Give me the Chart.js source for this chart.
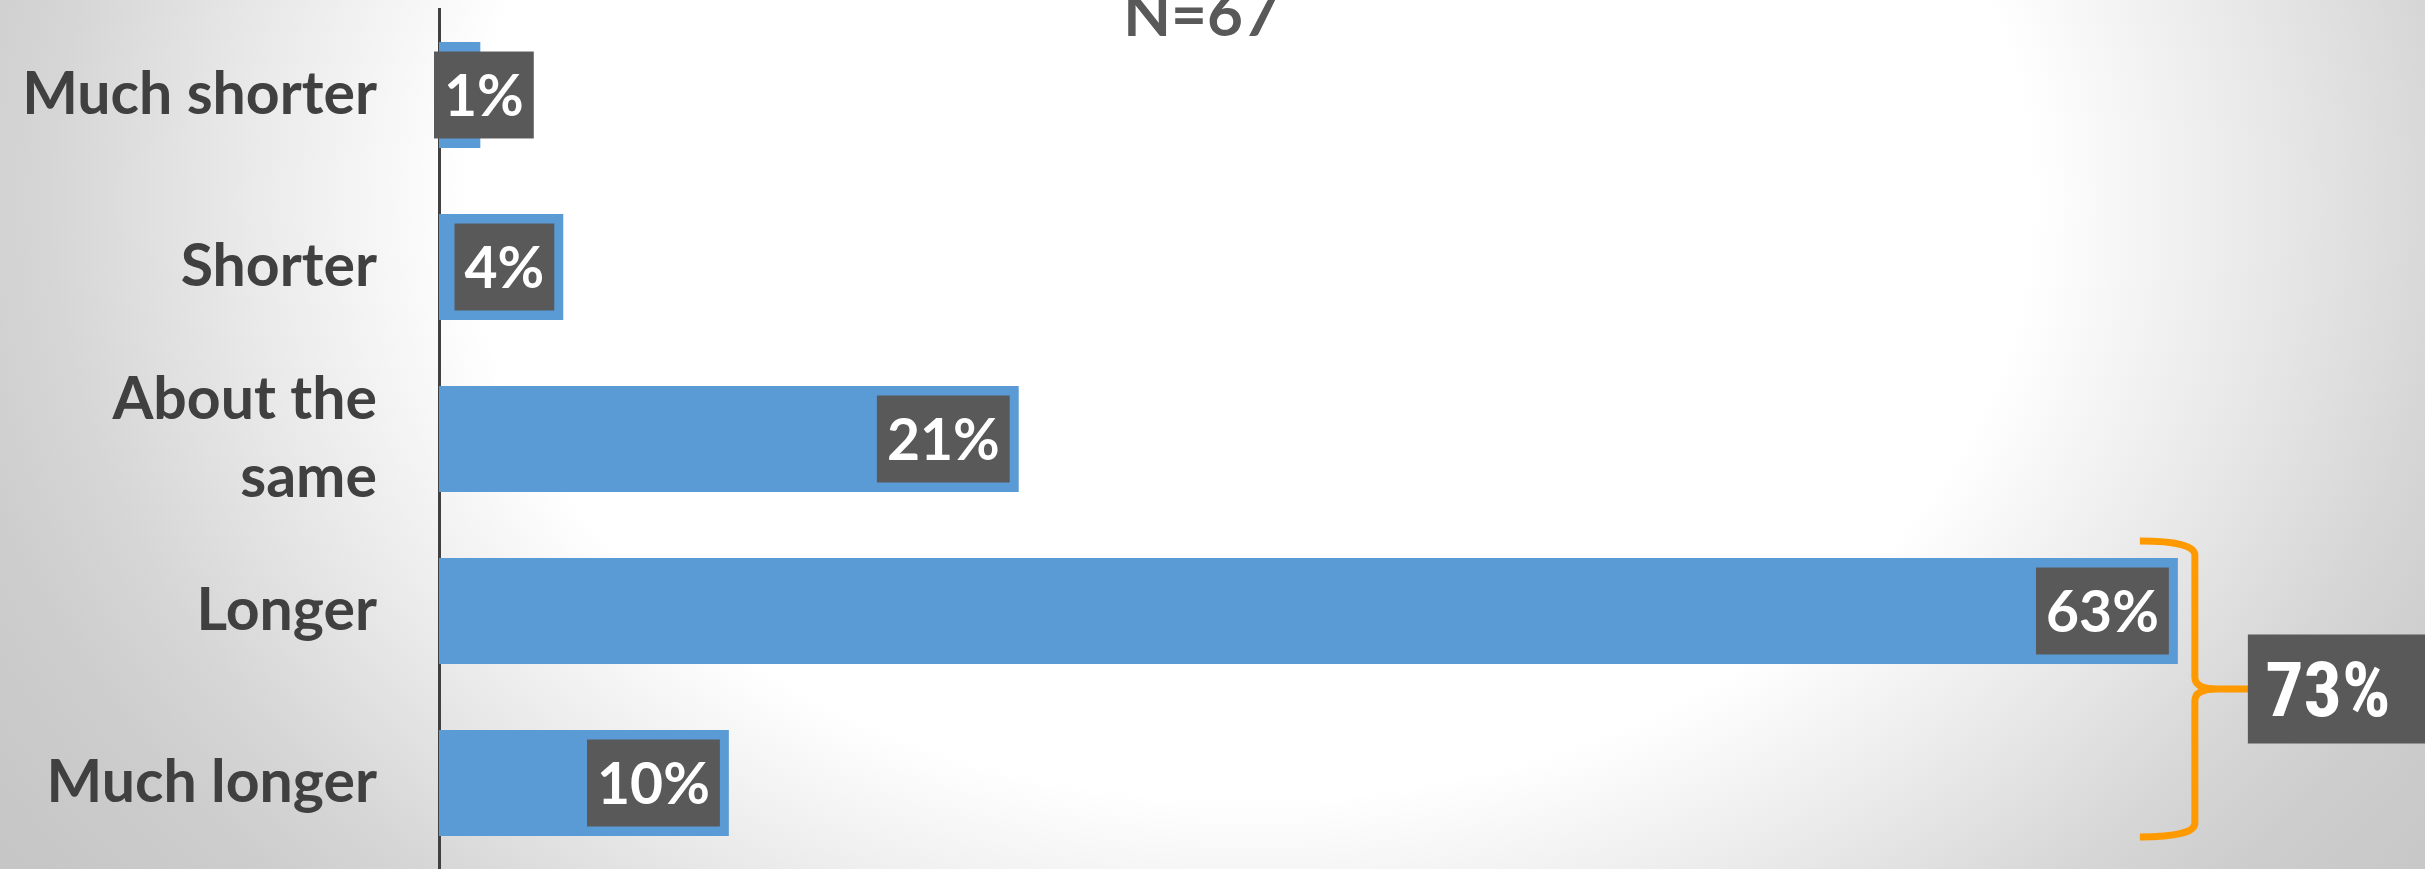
<!DOCTYPE html>
<html>
<head>
<meta charset="utf-8">
<title>N=67</title>
<script src="https://cdn.jsdelivr.net/npm/chart.js@4"></script>
<style>
    html, body {
        margin: 0;
        padding: 0;
        overflow: hidden;
    }
    body {
        width: 2425px;
        height: 869px;
        background: radial-gradient(ellipse 1500px 1150px at 1250px 200px,
            #ffffff 0%, #ffffff 52%, #e8e8e8 68%, #d6d6d6 80%, #cdcdcd 88%, #c6c6c6 100%);
    }
    #wrap {
        position: relative;
        width: 2425px;
        height: 869px;
    }
</style>
</head>
<body>
<div id="wrap"><canvas id="chart"></canvas></div>
<script>
const categories = ['Much shorter', 'Shorter', ['About the', 'same'], 'Longer', 'Much longer'];
const percents = [1.49, 4.48, 20.9, 62.69, 10.45];
const valueLabels = ['1%', '4%', '21%', '63%', '10%'];
const titleText = 'N=67';
const bracketLabel = '73%';
const bracketBars = [3, 4]; // Longer + Much longer

const BAR_BLUE = '#5B9BD5';
const BOX_GREY = '#595959';
const TEXT_DARK = '#404040';
const ORANGE = '#FF9900';
const FONT = 'Lato, "Open Sans", sans-serif';

// dark boxes with white text near the bar ends
const valueBoxes = {
    id: 'valueBoxes',
    afterDatasetsDraw(chart) {
        const ctx = chart.ctx;
        const meta = chart.getDatasetMeta(0);
        const left = chart.chartArea.left;
        ctx.save();
        ctx.font = 'bold 57px ' + FONT;
        const cap = ctx.measureText('0').actualBoundingBoxAscent;
        meta.data.forEach((bar, i) => {
            const txt = valueLabels[i];
            const w = ctx.measureText(txt).width + 20;
            const h = bar.height - 19;
            let bx = bar.x - 9 - w;
            if (bx < left - 5) bx = left - 5;
            ctx.fillStyle = BOX_GREY;
            ctx.fillRect(bx, bar.y - h / 2, w, h);
            ctx.fillStyle = '#ffffff';
            ctx.textAlign = 'center';
            ctx.textBaseline = 'alphabetic';
            ctx.fillText(txt, bx + w / 2, bar.y + cap / 2);
        });
        ctx.restore();
    }
};

// orange brace round the last two bars, with the summed label
const brace = {
    id: 'brace',
    afterDraw(chart) {
        const ctx = chart.ctx;
        const meta = chart.getDatasetMeta(0);
        const a = meta.data[bracketBars[0]];
        const b = meta.data[bracketBars[1]];
        const x0 = Math.max(a.x, b.x);
        const top = a.y - a.height / 2 - 17;
        const bottom = b.y + b.height / 2 + 1;
        const mid = (top + bottom) / 2;
        const tipX = x0 - 38, vx = x0 + 17, px = x0 + 72;

        ctx.save();
        ctx.strokeStyle = ORANGE;
        ctx.lineWidth = 7;
        ctx.lineJoin = 'round';
        ctx.beginPath();
        ctx.moveTo(tipX, top);
        ctx.quadraticCurveTo(vx, top, vx, top + 14);
        ctx.lineTo(vx, mid - 12);
        ctx.quadraticCurveTo(vx, mid, vx + 22, mid);
        ctx.lineTo(px, mid);
        ctx.moveTo(px, mid);
        ctx.lineTo(vx + 22, mid);
        ctx.quadraticCurveTo(vx, mid, vx, mid + 12);
        ctx.lineTo(vx, bottom - 14);
        ctx.quadraticCurveTo(vx, bottom, tipX, bottom);
        ctx.stroke();

        const bx = px - 2;
        const bh = 109;
        ctx.fillStyle = BOX_GREY;
        ctx.fillRect(bx, mid - bh / 2, 190, bh);
        ctx.font = 'bold 76px "Liberation Sans Narrow", "Roboto Condensed", Roboto, sans-serif';
        const cap = ctx.measureText('7').actualBoundingBoxAscent;
        ctx.fillStyle = '#ffffff';
        ctx.textAlign = 'center';
        ctx.fillText(bracketLabel, bx + 80, mid + cap / 2);
        ctx.restore();
    }
};

// title sits partly above the top edge
const topTitle = {
    id: 'topTitle',
    afterDraw(chart) {
        const ctx = chart.ctx;
        ctx.save();
        ctx.font = 'bold 62px ' + FONT;
        ctx.fillStyle = BOX_GREY;
        ctx.textAlign = 'center';
        ctx.textBaseline = 'alphabetic';
        ctx.fillText(titleText, 1201, 36);
        ctx.restore();
    }
};

new Chart(document.getElementById('chart'), {
    type: 'bar',
    data: {
        labels: categories,
        datasets: [{
            data: percents,
            backgroundColor: BAR_BLUE,
            borderWidth: 0,
            barPercentage: 0.616,
            categoryPercentage: 1
        }]
    },
    options: {
        indexAxis: 'y',
        responsive: true,
        maintainAspectRatio: false,
        animation: false,
        layout: {
            padding: { top: 9, right: 0, bottom: 0, left: 0 }
        },
        plugins: {
            legend: { display: false },
            tooltip: { enabled: false },
            title: { display: false }
        },
        scales: {
            x: {
                display: false,
                min: 0,
                max: 71.6
            },
            y: {
                afterFit: (scale) => {
                    scale.width = 439;
                    scale.paddingTop = 0;
                    scale.paddingBottom = 0;
                },
                grid: { display: false, drawTicks: false },
                border: { display: true, color: TEXT_DARK, width: 3 },
                ticks: {
                    autoSkip: false,
                    padding: 62,
                    color: TEXT_DARK,
                    font: { family: FONT, size: 59, weight: 'bold', lineHeight: 1.31 }
                }
            }
        }
    },
    plugins: [valueBoxes, brace, topTitle]
});
</script>
</body>
</html>
